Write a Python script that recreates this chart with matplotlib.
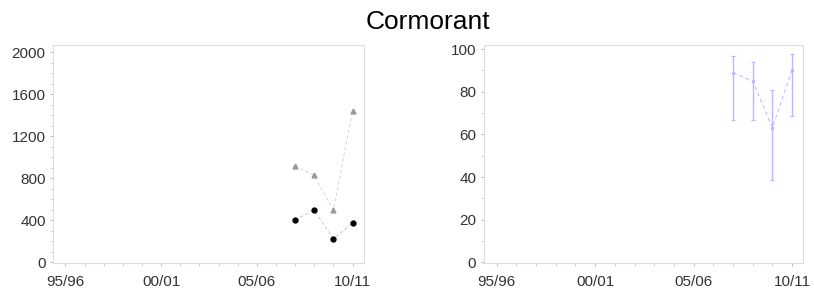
import numpy as np
import matplotlib.pyplot as plt
from matplotlib.ticker import MultipleLocator

plt.rcParams['font.family'] = ['Liberation Sans', 'DejaVu Sans']

# seasons, plotted as start year (95/96 -> 1995)
tick_years = [1995, 2000, 2005, 2010]
tick_labels = ["95/96", "00/01", "05/06", "10/11"]

years = [2007, 2008, 2009, 2010]
count_circle = [406, 495, 225, 375]
count_triangle = [917, 829, 495, 1441]

pct = [88.9, 85.0, 63.1, 90.2]
pct_lo = [66.6, 66.9, 38.4, 68.6]
pct_hi = [96.9, 93.8, 81.0, 97.5]

fig = plt.figure(figsize=(8.14, 2.94), dpi=100)
fig.text(0.526, 0.90, "Cormorant", ha='center', va='baseline', fontsize=19)

ax1 = fig.add_axes([0.0655, 0.1044, 0.3817, 0.7425])
ax2 = fig.add_axes([0.5946, 0.1044, 0.3923, 0.7425])

ax1.plot(years, count_triangle, ls=(0, (4, 3)), lw=0.6, color='#d0d0d0',
         marker='^', ms=3.5, mfc='#999999', mec='#999999')
ax1.plot(years, count_circle, ls=(0, (4, 3)), lw=0.6, color='#c0c0c0',
         marker='o', ms=3.5, mfc='black', mec='black')
ax1.set_ylim(-9.5, 2069)
ax1.set_xlim(1994.37, 2010.6)
ax1.yaxis.set_major_locator(MultipleLocator(400))
ax1.yaxis.set_minor_locator(MultipleLocator(100))

err = [np.array(pct) - np.array(pct_lo), np.array(pct_hi) - np.array(pct)]
ax2.errorbar(years, pct, yerr=err, color='#b8b8ff', lw=0.7, ls=(0, (4, 3)),
             marker='o', ms=1.5, elinewidth=1.0, capsize=1.5, capthick=0.8)
ax2.set_ylim(-0.47, 101.9)
ax2.set_xlim(1994.36, 2010.57)
ax2.yaxis.set_major_locator(MultipleLocator(20))
ax2.yaxis.set_minor_locator(MultipleLocator(10))

for ax in (ax1, ax2):
    ax.set_xticks(tick_years)
    ax.set_xticklabels(tick_labels)
    ax.xaxis.set_minor_locator(MultipleLocator(1))
    for s in ax.spines.values():
        s.set_color('#dddddd')
        s.set_linewidth(0.8)
    ax.tick_params(axis='both', which='major', labelsize=11, length=2.5,
                   color='#bbbbbb', labelcolor='#333333')
    ax.tick_params(axis='x', which='major', pad=6)
    ax.tick_params(axis='y', which='major', pad=3)
    ax.tick_params(axis='both', which='minor', length=2, color='#cccccc')

fig.savefig("out.png", dpi=100)
